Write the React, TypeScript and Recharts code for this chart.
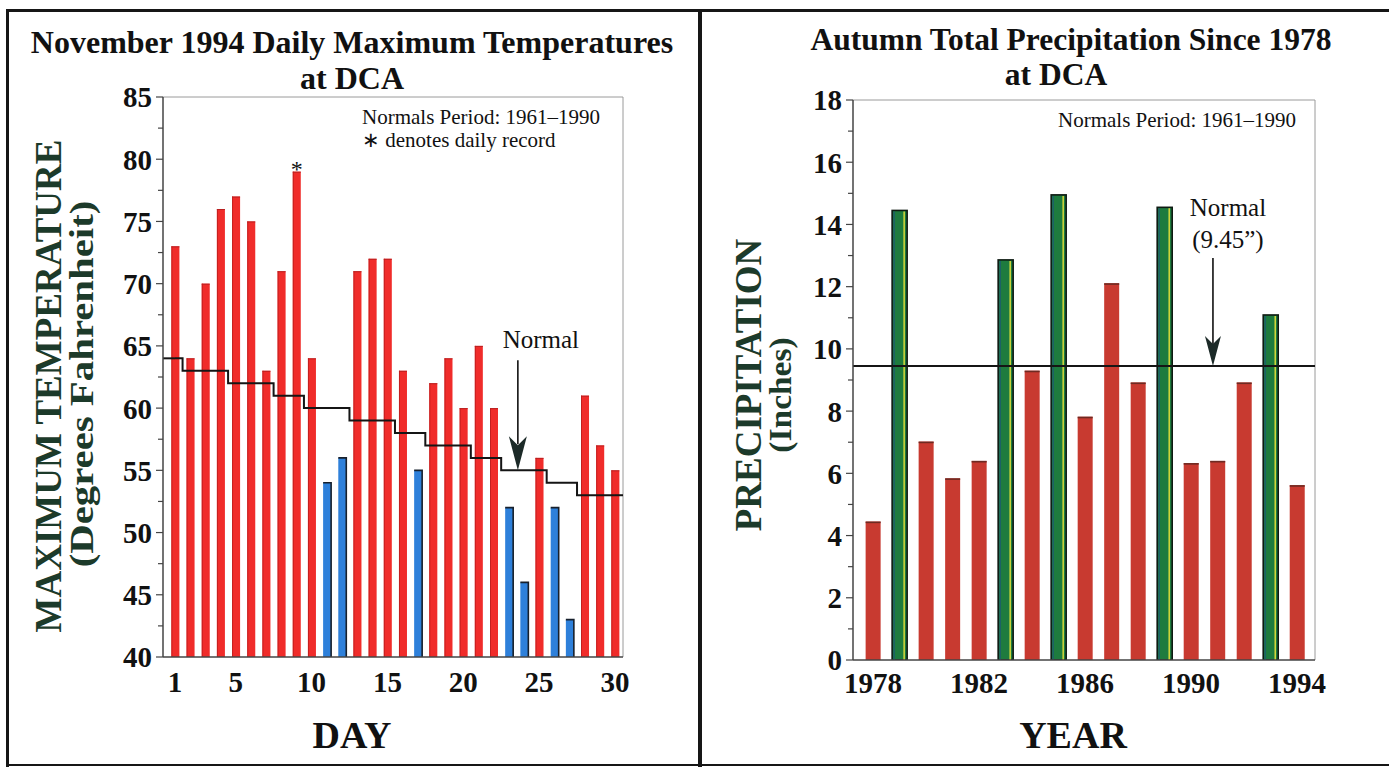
import React from "react";
import { ComposedChart, Bar, Line, XAxis, YAxis, ReferenceLine, ReferenceDot } from "recharts";

const SERIF = '"Liberation Serif", "Times New Roman", Times, serif';

// ---------- Left chart: November 1994 daily maximum temperatures ----------
const days = [1, 2, 3, 4, 5, 6, 7, 8, 9, 10, 11, 12, 13, 14, 15, 16, 17, 18, 19, 20, 21, 22, 23, 24, 25, 26, 27, 28, 29, 30];
const maxTemps = [73, 64, 70, 76, 77, 75, 63, 71, 79, 64, 54, 56, 71, 72, 72, 63, 55, 62, 64, 60, 65, 60, 52, 46, 56, 52, 43, 61, 57, 55];
const normalTemps = [64, 63, 63, 63, 62, 62, 62, 61, 61, 60, 60, 60, 59, 59, 59, 58, 58, 57, 57, 57, 56, 56, 55, 55, 55, 54, 54, 53, 53, 53];
const recordDays = [9];
const dayTicks = [1, 5, 10, 15, 20, 25, 30];
const tempMajorTicks = [40, 45, 50, 55, 60, 65, 70, 75, 80, 85];
const tempMinorTicks = [42.5, 47.5, 52.5, 57.5, 62.5, 67.5, 72.5, 77.5, 82.5];
const dayDomain: [number, number] = [0.21, 30.53];
const tempDomain: [number, number] = [40, 85];
const tempNoteDay = 23.6;

// ---------- Right chart: autumn total precipitation ----------
const years = [1978, 1979, 1980, 1981, 1982, 1983, 1984, 1985, 1986, 1987, 1988, 1989, 1990, 1991, 1992, 1993, 1994];
const autumnPrecip = [4.45, 14.45, 7.02, 5.84, 6.4, 12.86, 9.3, 14.95, 7.82, 12.11, 8.92, 14.55, 6.33, 6.4, 8.92, 11.09, 5.62];
const greenYears = [1979, 1983, 1985, 1989, 1993];
const precipNormal = 9.45;
const yearTicks = [1978, 1982, 1986, 1990, 1994];
const precipMajorTicks = [0, 2, 4, 6, 8, 10, 12, 14, 16, 18];
const precipMinorTicks = [1, 3, 5, 7, 9, 11, 13, 15, 17];
const yearDomain: [number, number] = [1977.25, 1994.68];
const precipDomain: [number, number] = [0, 18];
const precipNoteYear = 1990.83;

const tempRows = days.map((d, i) => ({
  day: d,
  temp: maxTemps[i],
  normal: normalTemps[i],
  record: recordDays.includes(d),
}));
const precipRows = years.map((y, i) => ({ year: y, precip: autumnPrecip[i], green: greenYears.includes(y) }));

const allTempTicks = [...tempMajorTicks, ...tempMinorTicks].sort((a, b) => a - b);
const allPrecipTicks = [...precipMajorTicks, ...precipMinorTicks].sort((a, b) => a - b);

const makeYTick = (majors: number[]) => (props: any) => {
  const { x, y, payload } = props;
  const isMajor = majors.includes(payload.value);
  return (
    <g>
      <line x1={x - (isMajor ? 7 : 5)} x2={x} y1={y} y2={y} stroke="#444" strokeWidth={1.2} />
      {isMajor && (
        <text x={x - 11} y={y} dy="0.36em" textAnchor="end" fontFamily={SERIF} fontWeight="bold" fontSize={29} fill="#111">
          {payload.value}
        </text>
      )}
    </g>
  );
};

const makeXTick = (dy: number) => (props: any) => {
  const { x, y, payload } = props;
  return (
    <text x={x} y={y + dy} textAnchor="middle" fontFamily={SERIF} fontWeight="bold" fontSize={29} fill="#111">
      {payload.value}
    </text>
  );
};

const TempBar = (props: any) => {
  const { x, y, width, height, payload } = props;
  if (!(height > 0)) return null;
  const below = payload.temp < payload.normal;
  return (
    <g>
      {below ? (
        <g>
          <rect x={x} y={y} width={width} height={height} fill="#2e80da" />
          <polyline
            points={`${x},${y} ${x + width},${y} ${x + width},${y + height}`}
            fill="none"
            stroke="#17202c"
            strokeWidth={1.6}
          />
        </g>
      ) : (
        <g>
          <rect x={x} y={y} width={width} height={height} fill="#f02c2a" />
          <line x1={x + 0.5} x2={x + 0.5} y1={y} y2={y + height} stroke="#c41f1f" strokeWidth={1} />
          <line x1={x} x2={x + width} y1={y + 0.5} y2={y + 0.5} stroke="#b82020" strokeWidth={1} />
        </g>
      )}
      {payload.record && (
        <text x={x + width / 2} y={y + 5} textAnchor="middle" fontFamily={SERIF} fontSize={24} fill="#111">
          *
        </text>
      )}
    </g>
  );
};

const PrecipBar = (props: any) => {
  const { x, y, width, height, payload } = props;
  if (!(height > 0)) return null;
  if (payload.green) {
    return (
      <g>
        <rect x={x} y={y} width={width} height={height} fill="#1e7b3e" stroke="#0e1a12" strokeWidth={1.6} />
        <line x1={x + 2} x2={x + 2} y1={y + 1} y2={y + height} stroke="#1d5a74" strokeWidth={1.2} />
        <line x1={x + width - 3} x2={x + width - 3} y1={y + 1} y2={y + height} stroke="#e4e03a" strokeWidth={1.4} />
      </g>
    );
  }
  return (
    <g>
      <rect x={x} y={y} width={width} height={height} fill="#c83a30" />
      <line x1={x} x2={x + width} y1={y + 0.8} y2={y + 0.8} stroke="#6e2a22" strokeWidth={1.6} />
    </g>
  );
};

const TempNote = (props: any) => {
  const { cx, cy } = props;
  return (
    <g>
      <line x1={cx} x2={cx} y1={cy - 110} y2={cy - 26} stroke="#111" strokeWidth={1.6} />
      <path d={`M${cx - 9},${cy - 34} L${cx},${cy} L${cx + 9},${cy - 34} L${cx},${cy - 25} Z`} fill="#1c2a28" />
      <text x={cx + 23} y={cy - 122} textAnchor="middle" fontFamily={SERIF} fontSize={25} fill="#111">
        Normal
      </text>
    </g>
  );
};

const PrecipNote = (props: any) => {
  const { cx, cy } = props;
  return (
    <g>
      <line x1={cx} x2={cx} y1={cy - 108} y2={cy - 22} stroke="#111" strokeWidth={1.6} />
      <path d={`M${cx - 8},${cy - 30} L${cx},${cy} L${cx + 8},${cy - 30} L${cx},${cy - 22} Z`} fill="#1c2a28" />
      <text x={cx + 15} y={cy - 150} textAnchor="middle" fontFamily={SERIF} fontSize={25} fill="#111">
        Normal
      </text>
      <text x={cx + 15} y={cy - 118} textAnchor="middle" fontFamily={SERIF} fontSize={25} fill="#111">
        (9.45”)
      </text>
    </g>
  );
};

const Txt = ({ x, y, size, bold, anchor = "middle", color = "#111", children }: any) => (
  <div
    style={{
      position: "absolute",
      left: x,
      top: y - size / 2,
      transform: anchor === "middle" ? "translateX(-50%)" : undefined,
      fontSize: size,
      lineHeight: `${size}px`,
      fontWeight: bold ? "bold" : "normal",
      whiteSpace: "nowrap",
      color,
      fontFamily: SERIF,
    }}
  >
    {children}
  </div>
);

const VTxt = ({ x, y, size, stretch = 1, color = "#1c3a2a", children }: any) => (
  <div
    style={{
      position: "absolute",
      left: x,
      top: y,
      transform: `translate(-50%, -50%) rotate(-90deg) scaleX(${stretch})`,
      fontSize: size,
      lineHeight: `${size}px`,
      fontWeight: "bold",
      whiteSpace: "nowrap",
      color,
      fontFamily: SERIF,
    }}
  >
    {children}
  </div>
);

const Rule = ({ left, top, width, height }: any) => (
  <div style={{ position: "absolute", left, top, width, height, background: "#161616" }} />
);

export default function App() {
  return (
    <div
      style={{
        position: "absolute",
        left: 0,
        top: 0,
        width: 1389,
        height: 767,
        background: "#ffffff",
        overflow: "hidden",
        fontFamily: SERIF,
      }}
    >
      {/* panel frames */}
      <Rule left={6} top={9} width={1383} height={3} />
      <Rule left={6} top={9} width={3} height={758} />
      <Rule left={698} top={9} width={4} height={758} />
      <Rule left={6} top={764} width={1383} height={2} />

      {/* left chart */}
      <div style={{ position: "absolute", left: 0, top: 0 }}>
        <ComposedChart width={700} height={767} data={tempRows} margin={{ top: 97, right: 77, bottom: 108, left: 161 }}>
          <XAxis
            dataKey="day"
            type="number"
            domain={dayDomain}
            allowDataOverflow
            ticks={dayTicks}
            interval={0}
            height={2}
            tickSize={0}
            tickMargin={0}
            tick={makeXTick(35)}
            axisLine={{ stroke: "#444", strokeWidth: 1.5 }}
          />
          <YAxis
            type="number"
            domain={tempDomain}
            allowDataOverflow
            ticks={allTempTicks}
            interval={0}
            width={2}
            tickSize={0}
            tickMargin={0}
            tick={makeYTick(tempMajorTicks)}
            axisLine={{ stroke: "#444", strokeWidth: 1.5 }}
          />
          <ReferenceLine y={tempDomain[1]} stroke="#9a9a9a" strokeWidth={1} />
          <ReferenceLine x={dayDomain[1]} stroke="#9a9a9a" strokeWidth={1} />
          <Bar dataKey="temp" barSize={8} shape={TempBar} isAnimationActive={false} />
          <Line
            dataKey="normal"
            type="step"
            stroke="#151515"
            strokeWidth={2}
            dot={false}
            activeDot={false}
            isAnimationActive={false}
          />
          <ReferenceLine
            segment={[
              { x: dayDomain[0], y: normalTemps[0] },
              { x: days[0], y: normalTemps[0] },
            ]}
            stroke="#151515"
            strokeWidth={2}
          />
          <ReferenceLine
            segment={[
              { x: days[days.length - 1], y: normalTemps[normalTemps.length - 1] },
              { x: dayDomain[1], y: normalTemps[normalTemps.length - 1] },
            ]}
            stroke="#151515"
            strokeWidth={2}
          />
          <ReferenceDot x={tempNoteDay} y={normalTemps[23]} r={0} shape={TempNote} />
        </ComposedChart>
      </div>

      {/* right chart */}
      <div style={{ position: "absolute", left: 700, top: 0 }}>
        <ComposedChart width={689} height={767} data={precipRows} margin={{ top: 100, right: 74, bottom: 105, left: 151 }}>
          <XAxis
            dataKey="year"
            type="number"
            domain={yearDomain}
            allowDataOverflow
            ticks={yearTicks}
            interval={0}
            height={2}
            tickSize={0}
            tickMargin={0}
            tick={makeXTick(33)}
            axisLine={{ stroke: "#444", strokeWidth: 1.5 }}
          />
          <YAxis
            type="number"
            domain={precipDomain}
            allowDataOverflow
            ticks={allPrecipTicks}
            interval={0}
            width={2}
            tickSize={0}
            tickMargin={0}
            tick={makeYTick(precipMajorTicks)}
            axisLine={{ stroke: "#444", strokeWidth: 1.5 }}
          />
          <ReferenceLine y={precipDomain[1]} stroke="#9a9a9a" strokeWidth={1} />
          <ReferenceLine x={yearDomain[1]} stroke="#9a9a9a" strokeWidth={1} />
          <Bar dataKey="precip" barSize={15} shape={PrecipBar} isAnimationActive={false} />
          <ReferenceLine y={precipNormal} stroke="#151515" strokeWidth={2} />
          <ReferenceDot x={precipNoteYear} y={precipNormal} r={0} shape={PrecipNote} />
        </ComposedChart>
      </div>

      {/* titles */}
      <Txt x={352} y={42} size={32} bold>November 1994 Daily Maximum Temperatures</Txt>
      <Txt x={352} y={78} size={32} bold>at DCA</Txt>
      <Txt x={1071} y={40} size={31.5} bold>Autumn Total Precipitation Since 1978</Txt>
      <Txt x={1056} y={75} size={31.5} bold>at DCA</Txt>

      {/* in-plot notes */}
      <Txt x={362} y={117} size={21} anchor="start">Normals Period: 1961–1990</Txt>
      <Txt x={362} y={140} size={21} anchor="start">∗ denotes daily record</Txt>
      <Txt x={1058} y={120} size={21} anchor="start">Normals Period: 1961–1990</Txt>

      {/* axis titles */}
      <VTxt x={48} y={386} size={37}>MAXIMUM TEMPERATURE</VTxt>
      <VTxt x={82} y={384} size={34} stretch={1.2}>(Degrees Fahrenheit)</VTxt>
      <VTxt x={748} y={385} size={37}>PRECIPITATION</VTxt>
      <VTxt x={780} y={395} size={31} stretch={1.08}>(Inches)</VTxt>
      <Txt x={352} y={735} size={38} bold>DAY</Txt>
      <Txt x={1073} y={735} size={38} bold>YEAR</Txt>
    </div>
  );
}
